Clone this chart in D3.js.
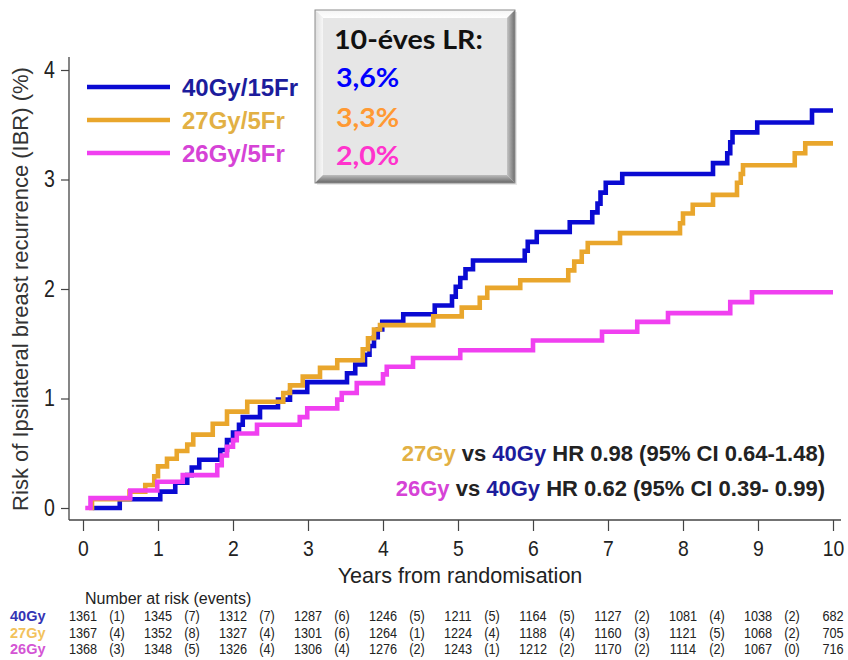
<!DOCTYPE html>
<html>
<head>
<meta charset="utf-8">
<script src="https://cdn.jsdelivr.net/npm/d3@7/dist/d3.min.js"></script>
<style>
  html, body { margin: 0; padding: 0; background: #fff; }
  svg { display: block; }
</style>
</head>
<body>
<script>
// ---- Data -------------------------------------------------------------
const years = [0, 1, 2, 3, 4, 5, 6, 7, 8, 9, 10];
const yTicks = [0, 1, 2, 3, 4];

// Cumulative risk of ipsilateral breast recurrence (%), step points [year, risk]
const arm40 = [
  [0.13, 0], [0.49, 0.08], [1.03, 0.15], [1.23, 0.23], [1.39, 0.30], [1.45, 0.37],
  [1.55, 0.44], [1.83, 0.53], [1.92, 0.62], [2.0, 0.69], [2.08, 0.76], [2.13, 0.83],
  [2.36, 0.92], [2.6, 0.99], [2.76, 1.06], [2.99, 1.15], [3.52, 1.23], [3.63, 1.31],
  [3.76, 1.40], [3.82, 1.48], [3.88, 1.56], [3.93, 1.63], [3.99, 1.70], [4.27, 1.77],
  [4.69, 1.85], [4.92, 1.93], [4.97, 2.02], [5.03, 2.10], [5.1, 2.18], [5.2, 2.26],
  [5.89, 2.35], [5.93, 2.43], [6.05, 2.52], [6.49, 2.61], [6.79, 2.70], [6.86, 2.78],
  [6.9, 2.88], [6.97, 2.97], [7.19, 3.05], [8.4, 3.15], [8.59, 3.24], [8.63, 3.34],
  [8.66, 3.43], [8.99, 3.52], [9.72, 3.63], [10.0, 3.63]
];
const arm27 = [
  [0.08, 0], [0.12, 0.08], [0.62, 0.15], [0.83, 0.21], [0.95, 0.29], [1.0, 0.38],
  [1.12, 0.45], [1.25, 0.52], [1.39, 0.58], [1.47, 0.67], [1.73, 0.77], [1.92, 0.88],
  [2.19, 0.97], [2.67, 1.05], [2.76, 1.12], [2.93, 1.20], [3.16, 1.28], [3.39, 1.35],
  [3.73, 1.45], [3.8, 1.55], [3.88, 1.63], [3.96, 1.67], [4.67, 1.75], [5.05, 1.83],
  [5.29, 1.92], [5.39, 2.01], [5.83, 2.08], [6.47, 2.17], [6.55, 2.25], [6.65, 2.34],
  [6.73, 2.42], [7.16, 2.51], [7.96, 2.60], [8.0, 2.69], [8.13, 2.77], [8.4, 2.86],
  [8.72, 2.97], [8.77, 3.05], [8.8, 3.13], [9.49, 3.24], [9.63, 3.33], [10.0, 3.33]
];
const arm26 = [
  [0.03, 0], [0.1, 0.09], [0.63, 0.16], [0.99, 0.24], [1.33, 0.30], [1.79, 0.39],
  [1.85, 0.48], [1.92, 0.56], [2.0, 0.62], [2.05, 0.68], [2.32, 0.76], [2.89, 0.83],
  [2.99, 0.91], [3.39, 0.99], [3.45, 1.05], [3.65, 1.14], [4.0, 1.22], [4.05, 1.29],
  [4.4, 1.37], [5.03, 1.44], [6.0, 1.53], [6.92, 1.61], [7.39, 1.70], [7.8, 1.78],
  [8.63, 1.88], [8.92, 1.97], [10.0, 1.97]
];

const armNames = ["40Gy/15Fr", "27Gy/5Fr", "26Gy/5Fr"];
const tenYearLR = ["3,6%", "3,3%", "2,0%"];

// Number at risk (events) table
const riskRowLabels = ["40Gy", "27Gy", "26Gy"];
const atRisk40 = [1361, 1345, 1312, 1287, 1246, 1211, 1164, 1127, 1081, 1038, 682];
const events40 = [1, 7, 7, 6, 5, 5, 5, 2, 4, 2];
const atRisk27 = [1367, 1352, 1327, 1301, 1264, 1224, 1188, 1160, 1121, 1068, 705];
const events27 = [4, 8, 4, 6, 1, 4, 4, 3, 5, 2];
const atRisk26 = [1368, 1348, 1326, 1306, 1276, 1243, 1212, 1170, 1114, 1067, 716];
const events26 = [3, 5, 4, 4, 2, 1, 2, 2, 2, 0];

// ---- Styling ----------------------------------------------------------
const lineColors = ["#0a0ad2", "#e9a62c", "#f040f0"];
const legendTextColors = ["#1c1c9c", "#e2b044", "#d643d6"];
const lrColors = ["#0000ff", "#ff9933", "#ff33cc"];
const rowLabelColors = ["#3434b4", "#f2c25c", "#d455d4"];
const SANS = "'Liberation Sans', Arial, Helvetica, sans-serif";
const TEXT = "#222";

const W = 848, H = 660;
const svg = d3.select("body").append("svg").attr("width", W).attr("height", H);
svg.append("rect").attr("width", W).attr("height", H).attr("fill", "#fff");

const x = d3.scaleLinear().domain([0, 10]).range([83, 833]);
const y = d3.scaleLinear().domain([0, 4]).range([508, 70]);
const axisX = 69, axisY = 520;

// helper: text with horizontal squeeze/stretch about its anchor
function label(g, px, py, str, o) {
  return g.append("text")
    .attr("transform", `translate(${px},${py}) scale(${o.sx || 1},1)`)
    .attr("font-family", o.family || SANS)
    .attr("font-size", o.size)
    .attr("font-weight", o.weight || "normal")
    .attr("fill", o.fill || TEXT)
    .attr("text-anchor", o.anchor || "start")
    .text(str);
}

// ---- Axes -------------------------------------------------------------
const gy = svg.append("g").attr("transform", `translate(${axisX},0)`)
  .call(d3.axisLeft(y).tickValues(yTicks).tickFormat(d3.format("d"))
    .tickSize(8).tickPadding(8.5).tickSizeOuter(0));
gy.select(".domain").remove();
gy.selectAll(".tick line").attr("stroke", "#444").attr("stroke-width", 1.2);
gy.selectAll(".tick text")
  .attr("font-family", SANS).attr("font-size", 23).attr("fill", TEXT)
  .attr("transform", "scale(0.85,1)");

const gx = svg.append("g").attr("transform", `translate(0,${axisY})`)
  .call(d3.axisBottom(x).tickValues(years).tickFormat(d3.format("d"))
    .tickSize(11).tickPadding(9.5).tickSizeOuter(0));
gx.select(".domain").remove();
gx.selectAll(".tick line").attr("stroke", "#444").attr("stroke-width", 1.2);
gx.selectAll(".tick text")
  .attr("font-family", SANS).attr("font-size", 22).attr("fill", TEXT)
  .attr("transform", "scale(0.88,1)");

// axis frame lines
svg.append("line").attr("x1", axisX).attr("x2", axisX)
  .attr("y1", y(4) - 13).attr("y2", axisY)
  .attr("stroke", "#444").attr("stroke-width", 1.3);
svg.append("line").attr("x1", axisX).attr("x2", x(10) + 8)
  .attr("y1", axisY).attr("y2", axisY)
  .attr("stroke", "#444").attr("stroke-width", 1.3);

// axis titles
label(svg, 460, 583, "Years from randomisation", { size: 22, sx: 0.98, anchor: "middle" });
svg.append("text")
  .attr("transform", `translate(28,${(y(0) + y(4)) / 2}) rotate(-90)`)
  .attr("font-family", SANS).attr("font-size", 22).attr("fill", "#333")
  .attr("text-anchor", "middle")
  .text("Risk of Ipsilateral breast recurrence (IBR) (%)");

// ---- Curves -----------------------------------------------------------
const line = d3.line().x(d => x(d[0])).y(d => y(d[1])).curve(d3.curveStepAfter);
[arm40, arm27, arm26].forEach((arm, i) => {
  svg.append("path").datum(arm)
    .attr("d", line)
    .attr("fill", "none")
    .attr("stroke", lineColors[i])
    .attr("stroke-width", 4.6)
    .attr("stroke-linejoin", "miter")
    .attr("stroke-linecap", "butt");
});

// ---- Legend -----------------------------------------------------------
const legendY = [87, 120, 153];
armNames.forEach((name, i) => {
  svg.append("line").attr("x1", 87).attr("x2", 170)
    .attr("y1", legendY[i]).attr("y2", legendY[i])
    .attr("stroke", lineColors[i]).attr("stroke-width", 4.6);
  label(svg, 182, legendY[i] + 8.5, name, { size: 24, weight: "bold", fill: legendTextColors[i] });
});

// ---- 10-year local recurrence box ------------------------------------
const bx0 = 315, by0 = 10, bx1 = 515, by1 = 183, bv = 8;
const defs = svg.append("defs");
function grad(id, horizontal, c0, c1) {
  const g = defs.append("linearGradient").attr("id", id)
    .attr("x1", "0").attr("y1", "0")
    .attr("x2", horizontal ? "1" : "0").attr("y2", horizontal ? "0" : "1");
  g.append("stop").attr("offset", "0").attr("stop-color", c0);
  g.append("stop").attr("offset", "1").attr("stop-color", c1);
}
grad("bevR", true, "#c4c4c4", "#6e6e6e");
grad("bevB", false, "#bdbdbd", "#666");
grad("bevT", false, "#f4f4f4", "#ffffff");
grad("bevL", true, "#dedede", "#f7f7f7");

const box = svg.append("g");
box.append("rect").attr("x", bx0 + 2).attr("y", by0 + 2).attr("width", bx1 - bx0).attr("height", by1 - by0)
  .attr("fill", "#d8d8d8").attr("opacity", 0.6);
box.append("rect").attr("x", bx0 + bv).attr("y", by0 + bv)
  .attr("width", bx1 - bx0 - 2 * bv).attr("height", by1 - by0 - 2 * bv).attr("fill", "#e6e6e6");
const poly = (pts, fill) => box.append("polygon").attr("points", pts.map(p => p.join(",")).join(" ")).attr("fill", fill);
poly([[bx0, by0], [bx1, by0], [bx1 - bv, by0 + bv], [bx0 + bv, by0 + bv]], "url(#bevT)");
poly([[bx0, by0], [bx0 + bv, by0 + bv], [bx0 + bv, by1 - bv], [bx0, by1]], "url(#bevL)");
poly([[bx1, by0], [bx1, by1], [bx1 - bv, by1 - bv], [bx1 - bv, by0 + bv]], "url(#bevR)");
poly([[bx0, by1], [bx1, by1], [bx1 - bv, by1 - bv], [bx0 + bv, by1 - bv]], "url(#bevB)");
box.append("rect").attr("x", bx0).attr("y", by0).attr("width", bx1 - bx0).attr("height", by1 - by0)
  .attr("fill", "none").attr("stroke", "#8c8c8c").attr("stroke-width", 1);

const LATO = "Lato, 'Open Sans', sans-serif";
label(box, 334, 49, "10-éves LR:", { size: 26, weight: "bold", fill: "#111", family: LATO, sx: 1.1 });
const lrBase = [87, 127, 165];
tenYearLR.forEach((s, i) => {
  label(box, 336, lrBase[i], s, { size: 26, weight: "bold", fill: lrColors[i], family: LATO, sx: 1.1 });
});

// ---- Hazard ratio annotations ----------------------------------------
function hrLine(py, armLabel, armColor, rest) {
  const t = svg.append("text")
    .attr("x", 825).attr("y", py)
    .attr("font-family", SANS).attr("font-size", 22).attr("font-weight", "bold")
    .attr("text-anchor", "end").attr("fill", TEXT);
  t.append("tspan").attr("fill", armColor).text(armLabel);
  t.append("tspan").text(" vs ");
  t.append("tspan").attr("fill", legendTextColors[0]).text("40Gy");
  t.append("tspan").text(rest);
}
hrLine(461, "27Gy", legendTextColors[1], " HR 0.98 (95% CI 0.64-1.48)");
hrLine(496, "26Gy", legendTextColors[2], " HR 0.62 (95% CI 0.39- 0.99)");

// ---- Number at risk table ---------------------------------------------
const table = svg.append("g");
label(table, 85, 604, "Number at risk (events)", { size: 16 });
const rows = [[atRisk40, events40], [atRisk27, events27], [atRisk26, events26]];
const rowBase = [621, 637.5, 654];
rows.forEach(([nums, evs], r) => {
  label(table, 10, rowBase[r], riskRowLabels[r], { size: 14.5, weight: "bold", fill: rowLabelColors[r] });
  nums.forEach((n, i) => {
    label(table, x(years[i]), rowBase[r], String(n), { size: 15.5, sx: 0.82, anchor: "middle" });
  });
  evs.forEach((e, i) => {
    label(table, x(years[i]) + 34, rowBase[r], `(${e})`, { size: 15.5, sx: 0.82, anchor: "middle" });
  });
});
</script>
</body>
</html>
